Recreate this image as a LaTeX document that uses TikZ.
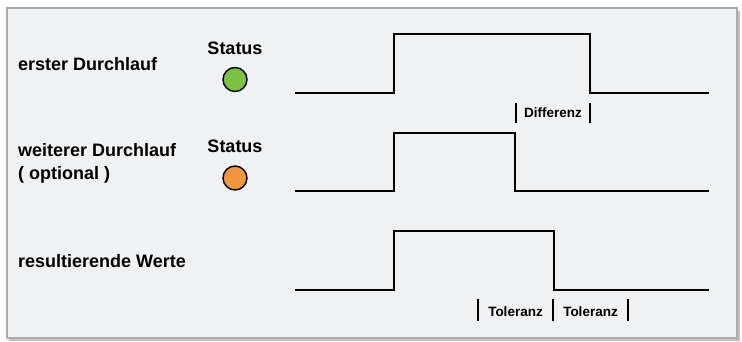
\documentclass[tikz,border=0pt]{standalone}
\usepackage{fontspec}
\setmainfont{Liberation Sans}
\begin{document}
\begin{tikzpicture}[x=1pt,y=-1pt,
  sig/.style={line width=2.4pt,black,line join=miter},
  tick/.style={line width=1.8pt,black},
  lbl/.style={font=\fontsize{18}{20}\selectfont\bfseries,anchor=base west,inner sep=0pt},
  stat/.style={font=\fontsize{18}{20}\selectfont\bfseries,anchor=base,inner sep=0pt},
  small/.style={font=\fontsize{13.5}{15}\selectfont\bfseries,anchor=base,inner sep=0pt},
  lamp/.style={circle,draw=black,line width=1.4pt,minimum size=24pt,inner sep=0pt}]
\useasboundingbox (0,0) rectangle (742,342);
\definecolor{bg}{HTML}{F0F1F3}
\definecolor{frame}{HTML}{A9ADB0}
\definecolor{lgreen}{HTML}{7DC143}
\definecolor{lorange}{HTML}{F0963F}
% frame with shadow
\fill[black!25] (9,11) rectangle (740,341);
\fill[bg,draw=frame,line width=2pt] (7,8) rectangle (737,338);
% labels
\node[lbl] (l1) at (18,71) {erster Durchlauf};
\node[lbl] (l2) at (18,157) {weiterer Durchlauf};
\node[lbl] (l2b) at (18,179) {( optional )};
\node[lbl] (l3) at (18,267) {resultierende Werte};
\node[stat] (s1) at (235,55) {Status};
\node[stat] (s2) at (235,153) {Status};
\node[lamp,fill=lgreen] (c1) at (235,79.5) {};
\node[lamp,fill=lorange] (c2) at (235,178) {};
% signals
\coordinate (a0) at (295,93);
\coordinate (a1) at (394,93);
\coordinate (a2) at (394,34);
\coordinate (a3) at (590,34);
\coordinate (a4) at (590,93);
\coordinate (a5) at (709,93);
\draw[sig] (a0) -- (a1) -- (a2) -- (a3) -- (a4) -- (a5);
\coordinate (b0) at (295,191);
\coordinate (b1) at (394,191);
\coordinate (b2) at (394,133);
\coordinate (b3) at (515,133);
\coordinate (b4) at (515,191);
\coordinate (b5) at (709,191);
\draw[sig] (b0) -- (b1) -- (b2) -- (b3) -- (b4) -- (b5);
\coordinate (r0) at (295,290);
\coordinate (r1) at (394,290);
\coordinate (r2) at (394,231);
\coordinate (r3) at (554,231);
\coordinate (r4) at (554,290);
\coordinate (r5) at (709,290);
\draw[sig] (r0) -- (r1) -- (r2) -- (r3) -- (r4) -- (r5);
% Differenz
\coordinate (d1t) at (516,103); \coordinate (d1b) at (516,123);
\coordinate (d2t) at (590,103); \coordinate (d2b) at (590,123);
\draw[tick] (d1t) -- (d1b);
\draw[tick] (d2t) -- (d2b);
\node[small] (dt) at (553,118) {Differenz};
% Toleranz
\coordinate (t1t) at (478,299); \coordinate (t1b) at (478,321);
\coordinate (t2t) at (553,299); \coordinate (t2b) at (553,321);
\coordinate (t3t) at (628,299); \coordinate (t3b) at (628,321);
\draw[tick] (t1t) -- (t1b);
\draw[tick] (t2t) -- (t2b);
\draw[tick] (t3t) -- (t3b);
\node[small] (tl1) at (515.5,316) {Toleranz};
\node[small] (tl2) at (590.5,316) {Toleranz};
\end{tikzpicture}
\end{document}
